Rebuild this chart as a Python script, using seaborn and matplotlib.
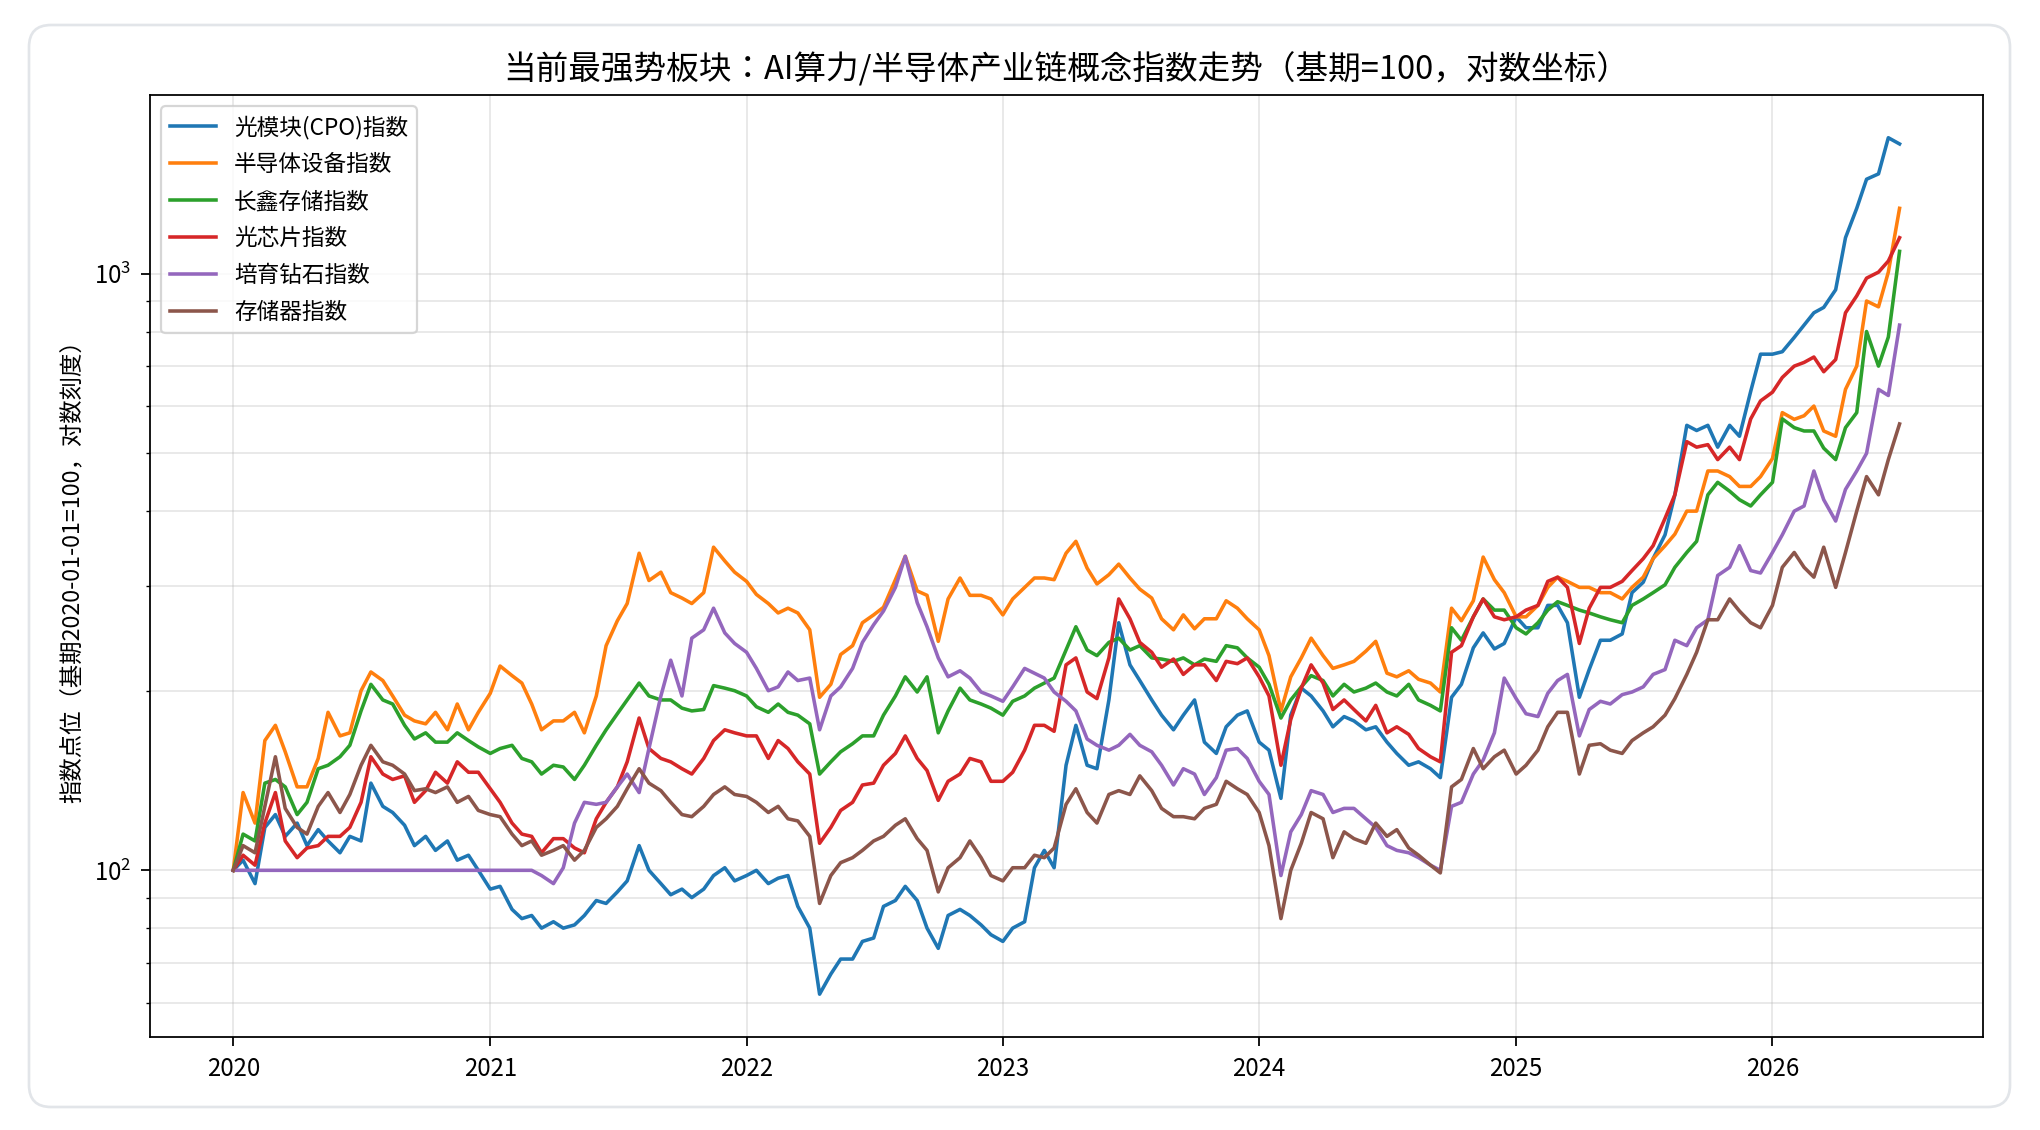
import pandas as pd
import seaborn as sns
import matplotlib.pyplot as plt
import matplotlib.dates as mdates
from matplotlib.patches import FancyBboxPatch

# semi-monthly samples (1st and 15th), 2020-01-01 .. 2026-07-01
dates = pd.date_range('2020-01-01', '2026-07-01', freq='SMS')

cpo = [100, 104, 95, 118, 124, 114, 120, 110, 117, 112, 107, 114, 112, 140, 128, 125, 119, 110, 114, 108, 112, 104, 106, 100,
       93, 94, 86, 83, 84, 80, 82, 80, 81, 84, 89, 88, 92, 96, 110, 100, 95, 91, 93, 90, 93, 98, 101, 96,
       98, 100, 95, 97, 98, 87, 80, 62, 67, 71, 71, 76, 77, 87, 89, 94, 89, 80, 74, 84, 86, 84, 81, 78,
       76, 80, 82, 101, 108, 101, 150, 175, 150, 148, 193, 260, 221, 208, 193, 182, 172, 182, 193, 164, 157, 174, 182, 185,
       164, 159, 132, 182, 202, 196, 185, 174, 181, 178, 172, 174, 164, 157, 150, 152, 148, 143, 195, 205, 236, 250, 235, 240,
       266, 255, 255, 278, 278, 260, 195, 217, 243, 243, 249, 292, 304, 333, 365, 426, 557, 546, 557, 512, 557, 534, 635, 733,
       733, 740, 782, 820, 860, 878, 940, 1149, 1287, 1440, 1470, 1690, 1650]

semi_equip = [100, 135, 120, 165, 175, 158, 138, 138, 154, 184, 168, 170, 200, 215, 208, 196, 182, 178, 176, 184, 172, 190, 172, 184,
              198, 220, 212, 206, 190, 172, 178, 178, 184, 170, 196, 238, 262, 280, 340, 306, 316, 292, 286, 280, 292, 348, 330, 316,
              305, 290, 280, 270, 275, 270, 253, 195, 205, 230, 238, 260, 268, 276, 307, 336, 294, 289, 242, 285, 309, 289, 289, 285,
              268, 285, 298, 309, 309, 307, 340, 356, 321, 302, 313, 326, 309, 296, 286, 264, 253, 268, 254, 264, 264, 283, 275, 264,
              253, 229, 185, 211, 227, 245, 229, 218, 221, 224, 233, 242, 214, 211, 216, 209, 206, 199, 275, 262, 283, 335, 307, 292,
              266, 266, 278, 298, 310, 305, 298, 298, 292, 292, 285, 298, 310, 333, 350, 366, 400, 400, 467, 467, 457, 440, 440, 457,
              490, 585, 570, 578, 600, 545, 534, 640, 700, 900, 880, 1006, 1287]

cxmt = [100, 115, 112, 140, 142, 138, 124, 130, 148, 150, 155, 162, 185, 205, 193, 190, 175, 166, 170, 164, 164, 170, 165, 161,
        157, 160, 162, 154, 152, 145, 150, 149, 142, 150, 162, 172, 183, 193, 206, 196, 193, 193, 187, 185, 186, 204, 202, 200,
        196, 188, 184, 190, 184, 182, 176, 145, 152, 158, 163, 168, 168, 182, 196, 211, 199, 211, 170, 185, 202, 193, 190, 187,
        182, 192, 196, 202, 206, 210, 234, 256, 234, 229, 241, 245, 234, 238, 227, 226, 224, 227, 221, 226, 224, 238, 236, 227,
        219, 205, 180, 193, 203, 212, 208, 196, 205, 199, 202, 206, 199, 196, 205, 193, 189, 185, 255, 243, 266, 285, 273, 273,
        255, 249, 260, 273, 282, 278, 273, 270, 266, 263, 260, 278, 285, 292, 301, 322, 341, 356, 426, 447, 432, 418, 408, 426,
        447, 571, 552, 545, 545, 510, 488, 552, 585, 800, 700, 783, 1090]

opt_chip = [100, 106, 102, 120, 135, 112, 105, 109, 110, 114, 114, 118, 130, 155, 145, 142, 144, 130, 136, 146, 140, 152, 146, 146,
            137, 130, 120, 115, 114, 107, 113, 113, 109, 107, 122, 130, 138, 152, 180, 160, 154, 152, 148, 145, 154, 165, 172, 170,
            168, 168, 154, 165, 160, 152, 145, 111, 118, 126, 130, 139, 140, 150, 157, 168, 154, 147, 131, 141, 145, 154, 152, 141,
            141, 146, 159, 175, 175, 171, 221, 227, 199, 194, 227, 285, 264, 241, 232, 219, 226, 213, 221, 221, 208, 224, 222, 227,
            211, 196, 150, 179, 202, 221, 206, 186, 193, 186, 178, 189, 170, 174, 169, 160, 155, 152, 232, 238, 266, 285, 266, 263,
            266, 273, 278, 305, 310, 298, 240, 275, 298, 298, 305, 318, 333, 350, 389, 426, 523, 512, 517, 488, 512, 488, 571, 612,
            633, 670, 700, 710, 725, 685, 718, 860, 918, 983, 1006, 1050, 1149]

diamond = [100] * 24 + \
          [100, 100, 100, 100, 100, 98, 95, 101, 120, 130, 129, 130, 138, 145, 135, 160, 196, 225, 196, 245, 253, 275, 250, 240,
           232, 218, 200, 203, 215, 208, 210, 172, 196, 203, 218, 241, 258, 272, 298, 336, 281, 256, 227, 211, 216, 210, 199, 196,
           192, 203, 218, 214, 210, 199, 192, 185, 166, 162, 159, 162, 169, 162, 158, 150, 139, 148, 145, 134, 143, 159, 160, 154,
           141, 134, 98, 116, 124, 136, 134, 125, 127, 127, 122, 118, 110, 108, 107, 105, 102, 100, 128, 130, 145, 153, 170, 210,
           194, 183, 181, 198, 208, 213, 168, 186, 192, 190, 197, 199, 203, 213, 217, 243, 238, 255, 263, 312, 322, 350, 318, 315,
           341, 365, 400, 408, 467, 418, 385, 435, 467, 500, 640, 625, 820]

memory = [100, 110, 107, 128, 155, 127, 118, 115, 128, 135, 125, 134, 150, 162, 152, 150, 145, 136, 137, 135, 138, 130, 133, 126,
          124, 123, 115, 110, 112, 106, 108, 110, 104, 108, 118, 122, 128, 137, 148, 140, 136, 130, 124, 123, 128, 134, 138, 134,
          133, 130, 125, 128, 122, 121, 114, 88, 98, 103, 105, 108, 112, 114, 119, 122, 113, 108, 92, 101, 105, 112, 105, 98,
          96, 101, 101, 106, 105, 109, 129, 137, 125, 120, 134, 136, 134, 144, 136, 127, 123, 123, 122, 127, 129, 141, 137, 134,
          125, 110, 83, 100, 111, 125, 122, 105, 116, 113, 111, 120, 114, 117, 109, 106, 102, 99, 138, 142, 160, 148, 155, 159,
          145, 150, 159, 174, 184, 184, 145, 162, 163, 159, 157, 165, 170, 174, 182, 194, 213, 232, 263, 263, 285, 272, 260, 255,
          278, 322, 341, 322, 310, 348, 298, 341, 400, 457, 426, 488, 560]

names = ['光模块(CPO)指数', '半导体设备指数', '长鑫存储指数', '光芯片指数', '培育钻石指数', '存储器指数']
series = [cpo, semi_equip, cxmt, opt_chip, diamond, memory]
colors = sns.color_palette('tab10', 6)

plt.rcParams['font.family'] = ['Noto Sans CJK JP', 'DejaVu Sans']
plt.rcParams['axes.unicode_minus'] = False

fig, ax = plt.subplots(figsize=(12.75, 7.0625), dpi=160)
fig.subplots_adjust(left=0.0735, right=0.972, bottom=0.0823, top=0.916)

for name, vals, c in zip(names, series, colors):
    sns.lineplot(x=dates, y=vals, ax=ax, label=name, color=c, linewidth=1.6)

ax.set_yscale('log')
ax.xaxis.set_major_locator(mdates.YearLocator())
ax.xaxis.set_major_formatter(mdates.DateFormatter('%Y'))
ax.grid(True, which='both', alpha=0.3)
ax.tick_params(which='major', labelsize=10.8, length=4, pad=4.5)
ax.set_xlabel('')
ax.set_ylabel('指数点位（基期2020-01-01=100，对数刻度）', fontsize=10.5)
ax.set_title('当前最强势板块：AI算力/半导体产业链概念指数走势（基期=100，对数坐标）', fontsize=14.7, pad=7)
ax.legend(loc='upper left', fontsize=10.2, labelspacing=0.62)

# light rounded card around the figure
card = FancyBboxPatch((29, 23), 1981, 1082, boxstyle='round,pad=0,rounding_size=22',
                      transform=None, fc='none', ec='#e2e5e9', lw=1.2)
fig.add_artist(card)

fig.savefig('out.png', dpi=160)
